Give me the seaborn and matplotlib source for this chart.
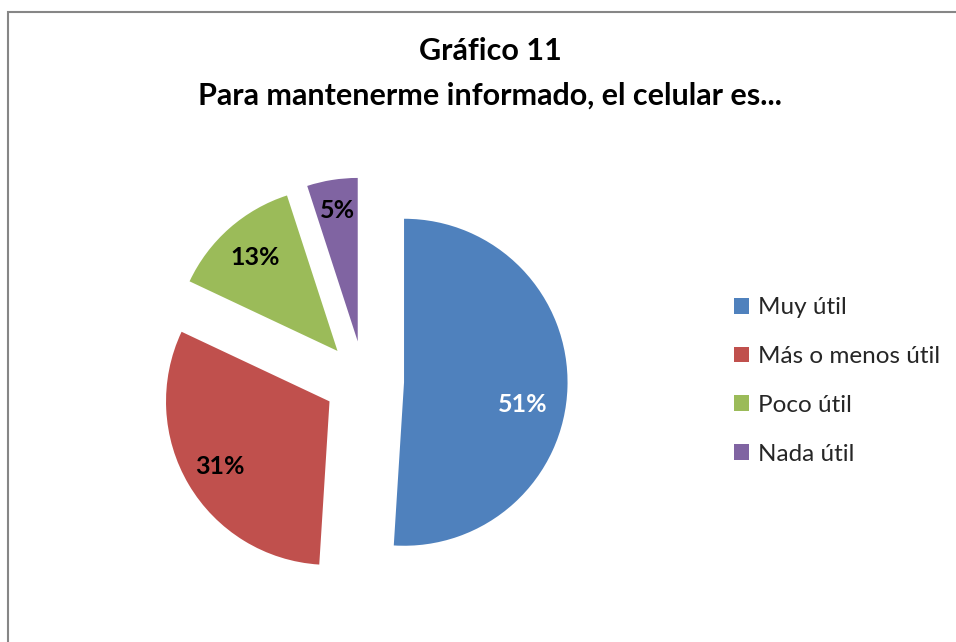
import numpy as np
import seaborn as sns
import matplotlib.pyplot as plt
from matplotlib.patches import Rectangle

# Chart data
categories = ["Muy útil", "Más o menos útil", "Poco útil", "Nada útil"]
percentages = [51, 31, 13, 5]
colors = ["#4F81BD", "#C0504D", "#9BBB59", "#8064A2"]
label_colors = ["white", "black", "black", "black"]
title_lines = ["Gráfico 11", "Para mantenerme informado, el celular es..."]

sns.set_theme(style="white")
plt.rcParams['font.family'] = ['Lato', 'DejaVu Sans']

W, H = 956, 642
fig = plt.figure(figsize=(W / 100, H / 100), dpi=100)
fig.patch.set_facecolor("white")

# outer chart border (right/bottom edges fall outside the crop)
fig.patches.append(Rectangle((8 / W, -0.1), 1.2, 1 - 12 / H + 0.1,
                             transform=fig.transFigure, fill=False,
                             edgecolor="#868686", linewidth=1.5))

# pie axes: centre (364, 381) px, radius 163.5 px
cx, cy, r_px, half = 364, 381, 163.5, 250
ax = fig.add_axes([(cx - half) / W, (H - cy - half) / H, 2 * half / W, 2 * half / H])

wedges, _ = ax.pie(percentages, colors=colors, startangle=90, counterclock=False,
                   explode=[0.245] * 4, radius=1,
                   wedgeprops=dict(linewidth=0))
lim = half / r_px
ax.set_xlim(-lim, lim)
ax.set_ylim(-lim, lim)
ax.set_aspect("equal")
ax.axis("off")

# percentage labels
label_dist = [0.74, 0.78, 0.76, 0.81]
label_shift = [-9, 0, 0, 0]
for w, p, c, d, s in zip(wedges, percentages, label_colors, label_dist, label_shift):
    ang = np.deg2rad((w.theta1 + w.theta2) / 2 + s)
    x0, y0 = w.center
    ax.text(x0 + d * np.cos(ang), y0 + d * np.sin(ang), f"{p}%",
            ha="center", va="center", color=c, fontsize=18, fontweight="bold")

# title
fig.text(490 / W, 1 - 51 / H, title_lines[0], ha="center", va="center",
         fontsize=22, fontweight="bold", color="black")
fig.text(490 / W, 1 - 96 / H, title_lines[1], ha="center", va="center",
         fontsize=22, fontweight="bold", color="black")

# legend
fig.legend(wedges, categories, loc="center left",
           bbox_to_anchor=(734 / W, 1 - 381 / H), frameon=False,
           fontsize=17.5, handlelength=0.62, handleheight=0.62,
           handletextpad=0.35, labelspacing=1.14, borderpad=0, borderaxespad=0)

fig.savefig("out.png", dpi=100)
